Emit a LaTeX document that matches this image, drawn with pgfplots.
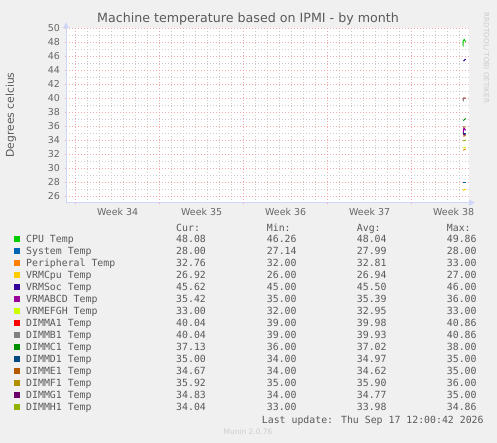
\documentclass[border=0pt]{standalone}
\usepackage{fontspec}
\setmainfont{DejaVu Sans}
\newfontfamily\mono{DejaVu Sans Mono}
\usepackage{pgfplots}
\pgfplotsset{compat=1.18}
\usetikzlibrary{arrows.meta}
\definecolor{bg}{HTML}{F0F0F0}
\definecolor{axiscol}{HTML}{CFD6F8}
\definecolor{mgrid}{HTML}{F2A8A8}
\definecolor{gridc}{HTML}{CCCCCC}
\definecolor{tickc}{HTML}{666666}
\definecolor{txt}{HTML}{5A5A5A}
\definecolor{c1}{HTML}{00CC00}
\definecolor{c2}{HTML}{0066B3}
\definecolor{c3}{HTML}{FF8000}
\definecolor{c4}{HTML}{FFCC00}
\definecolor{c5}{HTML}{330099}
\definecolor{c6}{HTML}{990099}
\definecolor{c7}{HTML}{CCFF00}
\definecolor{c8}{HTML}{FF0000}
\definecolor{c9}{HTML}{808080}
\definecolor{c10}{HTML}{008F00}
\definecolor{c11}{HTML}{00487D}
\definecolor{c12}{HTML}{B35A00}
\definecolor{c13}{HTML}{B38F00}
\definecolor{c14}{HTML}{6B006B}
\definecolor{c15}{HTML}{8FB300}
\newcommand{\lrow}[7]{%
  \fill[#1] (14,{443-#2-3}) rectangle (20,{443-#2+3});
  \node[anchor=base west,inner sep=0] at (26,{443-#2-3.6}) {#3};
  \node[anchor=base west,inner sep=0] at (176,{443-#2-3.6}) {#4};
  \node[anchor=base west,inner sep=0] at (266.7,{443-#2-3.6}) {#5};
  \node[anchor=base west,inner sep=0] at (356.7,{443-#2-3.6}) {#6};
  \node[anchor=base west,inner sep=0] at (446.7,{443-#2-3.6}) {#7};
}
\begin{document}
\begin{tikzpicture}[x=1bp,y=1bp]
\fill[bg] (0,0) rectangle (497,443);
\begin{axis}[at={(66bp,240.3bp)}, anchor=south west, scale only axis,
  width=403bp, height=174.4bp,
  xmin=0, xmax=33.58, ymin=25.09, ymax=50,
  axis background/.style={fill=white},
  axis x line=bottom, axis y line=left,
  x axis line style={draw=axiscol, line width=1bp, -{Triangle[length=6bp,width=6bp]}, shorten >=-6bp},
  y axis line style={draw=axiscol, line width=1bp, -{Triangle[length=6bp,width=6bp]}, shorten >=-6bp},
  xtick={0.8,7.8,14.8,21.8,28.8}, xticklabels={},
  minor xtick={1.8,2.8,3.8,4.8,5.8,6.8,8.8,9.8,10.8,11.8,12.8,13.8,15.8,16.8,17.8,18.8,19.8,20.8,22.8,23.8,24.8,25.8,26.8,27.8,29.8,30.8,31.8,32.8},
  extra x ticks={4.3,11.3,18.3,25.3,32.3},
  extra x tick labels={Week 34,Week 35,Week 36,Week 37,Week 38},
  extra x tick style={grid=none, major tick length=0pt},
  ytick={26,28,...,50}, minor ytick={27,29,...,49},
  grid=both,
  major grid style={draw=mgrid, dash pattern=on 1bp off 2bp, line width=0.6bp},
  minor grid style={draw=gridc, dash pattern=on 1bp off 2bp, line width=0.6bp},
  tick style={draw=mgrid, line width=0.8bp},
  major tick length=2bp, minor tick length=0pt,
  ticklabel style={font=\fontsize{9.5}{11}\selectfont, text=tickc},
  /pgf/number format/assume math mode=true,
  yticklabel style={anchor=east, inner sep=0pt, xshift=-5bp},
  xticklabel style={anchor=base, inner sep=0pt, yshift=-13.1bp},
  every axis plot/.append style={line width=1bp, mark=none},
]
\addplot[c1] coordinates {(33.08,47.4) (33.1,48.2) (33.18,48.4) (33.3,48.08)};
\addplot[c2] coordinates {(33.1,28.0) (33.3,28.0)};
\addplot[c3] coordinates {(33.1,32.6) (33.3,32.76)};
\addplot[c4] coordinates {(33.1,26.8) (33.2,27.0) (33.3,26.92)};
\addplot[c5] coordinates {(33.12,45.3) (33.3,45.62)};
\addplot[c6] coordinates {(33.1,35.0) (33.15,35.8) (33.3,35.42)};
\addplot[c7] coordinates {(33.1,32.9) (33.3,33.0)};
\addplot[c8] coordinates {(33.1,39.6) (33.12,40.04) (33.3,40.04)};
\addplot[c9] coordinates {(33.1,39.6) (33.12,40.04) (33.3,40.04)};
\addplot[c10] coordinates {(33.1,36.8) (33.3,37.13)};
\addplot[c11] coordinates {(33.1,35.0) (33.3,35.0)};
\addplot[c12] coordinates {(33.1,34.6) (33.3,34.67)};
\addplot[c13] coordinates {(33.1,35.9) (33.3,35.92)};
\addplot[c14] coordinates {(33.1,34.8) (33.3,34.83)};
\addplot[c15] coordinates {(33.1,33.9) (33.3,34.04)};
\end{axis}
\node[text=txt, font=\fontsize{12.7}{14}\selectfont] at (248,423.7) {Machine temperature based on IPMI - by month};
\node[text=txt, rotate=90, font=\fontsize{10.8}{12}\selectfont] at (11,328) {Degrees celcius};
\node[text=gridc, rotate=-90, font=\fontsize{7.2}{8}\selectfont] at (486.3,385) {RRDTOOL/ TOBI OETIKER};
\begin{scope}[text=txt, font=\mono\fontsize{9.9}{12}\selectfont]
\node[anchor=base west,inner sep=0] at (176,{443-231.3}) {Cur:};
\node[anchor=base west,inner sep=0] at (266.7,{443-231.3}) {Min:};
\node[anchor=base west,inner sep=0] at (356.7,{443-231.3}) {Avg:};
\node[anchor=base west,inner sep=0] at (446.7,{443-231.3}) {Max:};
\lrow{c1}{239.3}{CPU Temp}{48.08}{46.26}{48.04}{49.86}
\lrow{c2}{251.3}{System Temp}{28.00}{27.14}{27.99}{28.00}
\lrow{c3}{263.3}{Peripheral Temp}{32.76}{32.00}{32.81}{33.00}
\lrow{c4}{275.3}{VRMCpu Temp}{26.92}{26.00}{26.94}{27.00}
\lrow{c5}{287.3}{VRMSoc Temp}{45.62}{45.00}{45.50}{46.00}
\lrow{c6}{299.3}{VRMABCD Temp}{35.42}{35.00}{35.39}{36.00}
\lrow{c7}{311.3}{VRMEFGH Temp}{33.00}{32.00}{32.95}{33.00}
\lrow{c8}{323.3}{DIMMA1 Temp}{40.04}{39.00}{39.98}{40.86}
\lrow{c9}{335.3}{DIMMB1 Temp}{40.04}{39.00}{39.93}{40.86}
\lrow{c10}{347.3}{DIMMC1 Temp}{37.13}{36.00}{37.02}{38.00}
\lrow{c11}{359.3}{DIMMD1 Temp}{35.00}{34.00}{34.97}{35.00}
\lrow{c12}{371.3}{DIMME1 Temp}{34.67}{34.00}{34.62}{35.00}
\lrow{c13}{383.3}{DIMMF1 Temp}{35.92}{35.00}{35.90}{36.00}
\lrow{c14}{395.3}{DIMMG1 Temp}{34.83}{34.00}{34.77}{35.00}
\lrow{c15}{407.3}{DIMMH1 Temp}{34.04}{33.00}{33.98}{34.86}
\node[anchor=base west,inner sep=0] at (261.7,{443-423.6}) {Last update: Thu Sep 17 12:00:42 2026};
\end{scope}
\node[text=gridc, font=\fontsize{7.5}{9}\selectfont] at (248,{443-432}) {Munin 2.0.76};
\end{tikzpicture}
\end{document}
